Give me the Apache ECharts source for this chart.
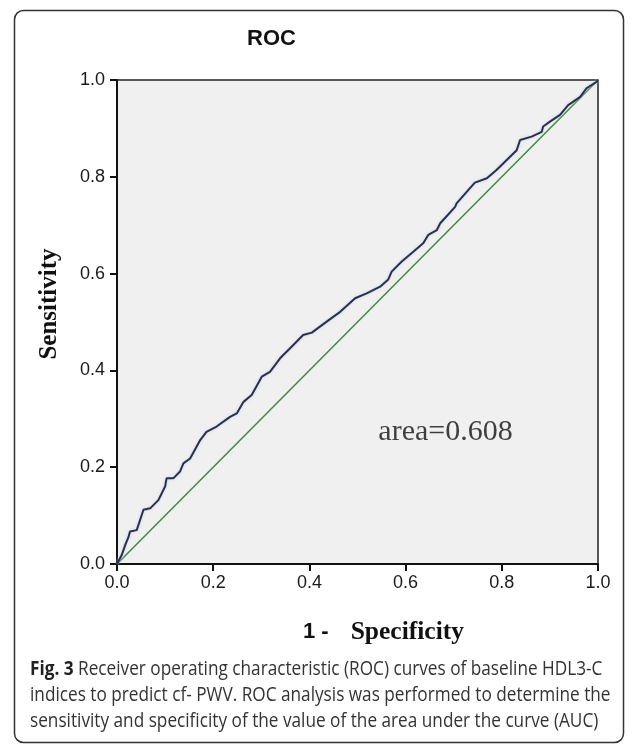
<!DOCTYPE html>
<html><head><meta charset="utf-8">
<script src="https://cdn.jsdelivr.net/npm/echarts@6/dist/echarts.min.js"></script>
<style>html,body{margin:0;padding:0;background:#fff}#c{width:634px;height:745px}</style>
</head><body><div id="c"></div>
<script>
// ROC curve points: [1 - specificity, sensitivity]
const rocFpr = [0, 0.010, 0.017, 0.024, 0.027, 0.041, 0.055, 0.069, 0.086, 0.100, 0.103, 0.117, 0.131, 0.138, 0.152, 0.173, 0.186, 0.207, 0.235, 0.249, 0.263, 0.280, 0.301, 0.318, 0.339, 0.363, 0.387, 0.405, 0.443, 0.464, 0.495, 0.519, 0.547, 0.564, 0.571, 0.592, 0.616, 0.637, 0.647, 0.665, 0.672, 0.703, 0.706, 0.727, 0.744, 0.769, 0.789, 0.824, 0.831, 0.838, 0.862, 0.883, 0.886, 0.900, 0.921, 0.938, 0.963, 0.976, 0.997, 1.0];
const rocTpr = [0, 0.019, 0.039, 0.056, 0.067, 0.070, 0.112, 0.115, 0.132, 0.160, 0.177, 0.177, 0.191, 0.208, 0.218, 0.256, 0.273, 0.284, 0.304, 0.311, 0.335, 0.349, 0.387, 0.397, 0.425, 0.449, 0.473, 0.478, 0.506, 0.521, 0.549, 0.559, 0.573, 0.588, 0.604, 0.625, 0.645, 0.663, 0.680, 0.690, 0.704, 0.738, 0.745, 0.769, 0.788, 0.797, 0.814, 0.848, 0.855, 0.876, 0.883, 0.893, 0.904, 0.914, 0.928, 0.948, 0.965, 0.983, 0.996, 1.0];
const refX = [0, 1];
const refY = [0, 1];
const titleText = 'ROC';
const areaText = 'area=0.608';
const areaPos = [0.683, 0.273];
const captionLines = [
  ['Fig. 3', ' Receiver operating characteristic (ROC) curves of baseline HDL3-C'],
  ['', 'indices to predict cf- PWV. ROC analysis was performed to determine the'],
  ['', 'sensitivity and specificity of the value of the area under the curve (AUC)']
];

const chart = echarts.init(document.getElementById('c'), null, {renderer: 'canvas'});
const capFont = '"Open Sans", "Noto Sans", sans-serif';
const sans = '"Liberation Sans", Arial, sans-serif';
const serif = '"Liberation Serif", "Times New Roman", serif';
const axisCommon = {
  type: 'value', min: 0, max: 1, interval: 0.2,
  axisLine: {show: true, onZero: false, lineStyle: {color: '#111', width: 2}},
  axisTick: {show: true, length: 7, lineStyle: {color: '#111', width: 2}},
  splitLine: {show: false}
};
const labelStyle = {color: '#1a1a1a', fontFamily: sans, fontSize: 18, formatter: v => v.toFixed(1)};
const option = {
  backgroundColor: '#fff',
  animation: false,
  title: {text: titleText, left: 242, top: 23,
    textStyle: {fontFamily: sans, fontWeight: 'bold', fontSize: 22, color: '#111'}},
  grid: {left: 117, right: 36, top: 80, bottom: 181, show: true, backgroundColor: '#f0f0f0',
    borderColor: '#222', borderWidth: 1.5, containLabel: false},
  xAxis: Object.assign({}, axisCommon, {
    name: '{a|1 -}{b|Specificity}', nameLocation: 'middle', nameGap: 55,
    nameTextStyle: {padding: [0, 0, 0, 52], rich: {
      a: {fontFamily: sans, fontWeight: 'bold', fontSize: 22, color: '#111'},
      b: {fontFamily: serif, fontWeight: 'bold', fontSize: 25.5, color: '#111', padding: [0, 0, 0, 22]}
    }},
    axisLabel: Object.assign({}, labelStyle, {margin: 10})
  }),
  yAxis: Object.assign({}, axisCommon, {
    name: 'Sensitivity', nameLocation: 'middle', nameGap: 55,
    nameTextStyle: {fontFamily: serif, fontWeight: 'bold', fontSize: 25, color: '#111', padding: [0, 0, 0, 36]},
    axisLabel: Object.assign({}, labelStyle, {margin: 12})
  }),
  series: [
    {type: 'line', data: refX.map((x, i) => [x, refY[i]]), symbol: 'none',
      lineStyle: {color: '#3d8b3d', width: 1.5}, z: 2},
    {type: 'line', data: rocFpr.map((x, i) => [x, rocTpr[i]]), symbol: 'none',
      lineStyle: {color: '#2b2f4e', width: 2, shadowColor: 'rgba(200,205,240,0.9)', shadowBlur: 3}, z: 3},
    {type: 'scatter', data: [areaPos], symbolSize: 0, silent: true,
      label: {show: true, position: 'inside', formatter: areaText,
        fontFamily: serif, fontSize: 30, color: '#111'}}
  ],
  graphic: [
    {type: 'rect', left: 12, top: 8, silent: true,
      shape: {width: 609, height: 732, r: 9},
      style: {fill: 'none', stroke: '#333', lineWidth: 1.5}},
    ...captionLines.map((ln, i) => ({
      type: 'text', left: 30, top: 659 + i * 26, silent: true, scaleX: 0.86,
      style: {
        text: (ln[0] ? '{f|' + ln[0] + '}' : '') + '{r|' + ln[1] + '}',
        rich: {
          f: {fontFamily: capFont, fontWeight: 'bold', fontSize: 20, fill: '#222'},
          r: {fontFamily: capFont, fontSize: 20, fill: '#333'}
        }
      }
    }))
  ]
};
chart.setOption(option);
</script></body></html>
